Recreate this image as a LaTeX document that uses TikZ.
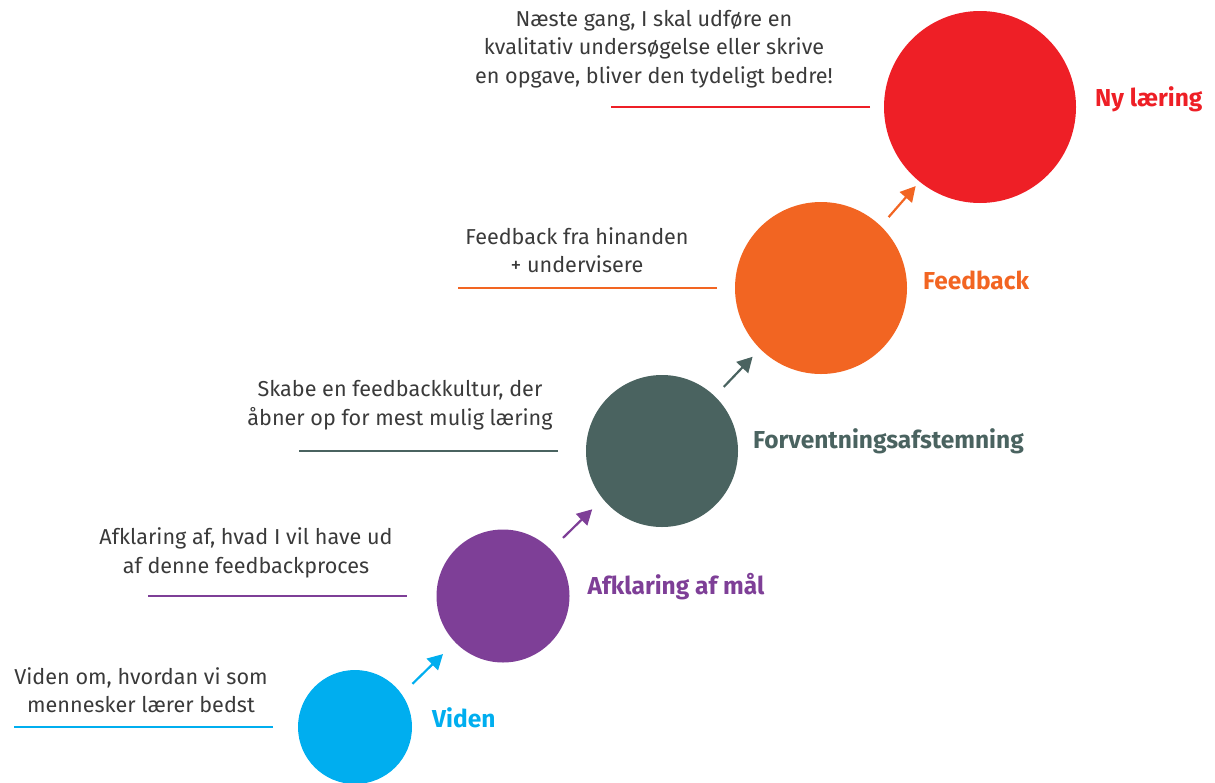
\documentclass[tikz,border=0pt]{standalone}
\usepackage{fontspec}
\setmainfont{Fira Sans}
\usetikzlibrary{arrows.meta,positioning}

\definecolor{vidcyan}{HTML}{00AEEF}
\definecolor{afkpurple}{HTML}{7E3F97}
\definecolor{forvslate}{HTML}{4A6360}
\definecolor{fbkorange}{HTML}{F26522}
\definecolor{nyred}{HTML}{EE1F26}
\definecolor{txtgray}{HTML}{3A3A3A}

\tikzset{
  bubble/.style={circle,fill=#1,inner sep=0pt,outer sep=0pt},
  steplabel/.style={font=\fontsize{24.5}{28}\selectfont\bfseries,text=#1,inner sep=0pt},
  desc/.style={font=\fontsize{21.6}{28.5}\selectfont,text=txtgray,align=center,inner sep=0pt},
  underline/.style={draw=#1,line width=2.8pt},
  uparrow/.style={draw=#1,line width=2.2pt,-{Triangle[length=15pt,width=16pt]}}
}

\begin{document}
\begin{tikzpicture}[x=1pt,y=-1pt]
\useasboundingbox (0,0) rectangle (1215,782);

% the five steps
\node[bubble=vidcyan,minimum size=114pt] (viden) at (355,727) {};
\node[bubble=afkpurple,minimum size=133pt] (afk) at (503,596) {};
\node[bubble=forvslate,minimum size=152pt] (forv) at (662,451) {};
\node[bubble=fbkorange,minimum size=172pt] (fbk) at (821,288) {};
\node[bubble=nyred,minimum size=192pt] (ny) at (980,107) {};

\node[steplabel=vidcyan,right=20pt of viden,yshift=9pt] (lviden) {Viden};
\node[steplabel=afkpurple,right=18pt of afk,yshift=9pt] (lafk) {Afklaring af mål};
\node[steplabel=forvslate,right=15pt of forv,yshift=10pt] (lforv) {Forventningsafstemning};
\node[steplabel=fbkorange,right=16pt of fbk,yshift=8pt] (lfbk) {Feedback};
\node[steplabel=nyred,right=19pt of ny,yshift=8pt] (lny) {Ny læring};

% arrows between the steps
\draw[uparrow=vidcyan,shorten <=15pt,shorten >=17pt] (viden.35) -- (afk.224);
\draw[uparrow=afkpurple,shorten <=17pt,shorten >=15pt] (afk.44) -- (forv.219);
\draw[uparrow=forvslate,shorten <=13pt,shorten >=11pt] (forv.46) -- (fbk.225);
\draw[uparrow=fbkorange,shorten <=12pt,shorten >=6pt] (fbk.46) -- (ny.231);

% texts and lines on the left
\node[desc] (dviden) at (141,690) {Viden om, hvordan vi som\\mennesker lærer bedst};
\node[desc] (dafk) at (246,553) {Afklaring af, hvad I vil have ud\\af denne feedbackproces};
\node[desc] (dforv) at (400,405) {Skabe en feedbackkultur, der\\åbner op for mest mulig læring};
\node[desc] (dfbk) at (577,250) {Feedback fra hinanden\\+ undervisere};
\node[desc] (dny) at (654,49) {Næste gang, I skal udføre en\\kvalitativ undersøgelse eller skrive\\en opgave, bliver den tydeligt bedre!};

\draw[underline=vidcyan] ([xshift=-25pt]viden.west) -- ++(-259,0);
\draw[underline=afkpurple] ([xshift=-30pt]afk.west) -- ++(-259,0);
\draw[underline=forvslate] ([xshift=-28pt]forv.west) -- ++(-259,0);
\draw[underline=fbkorange] ([xshift=-18pt]fbk.west) -- ++(-259,0);
\draw[underline=nyred] ([xshift=-14pt]ny.west) -- ++(-259,0);

\end{tikzpicture}
\end{document}
